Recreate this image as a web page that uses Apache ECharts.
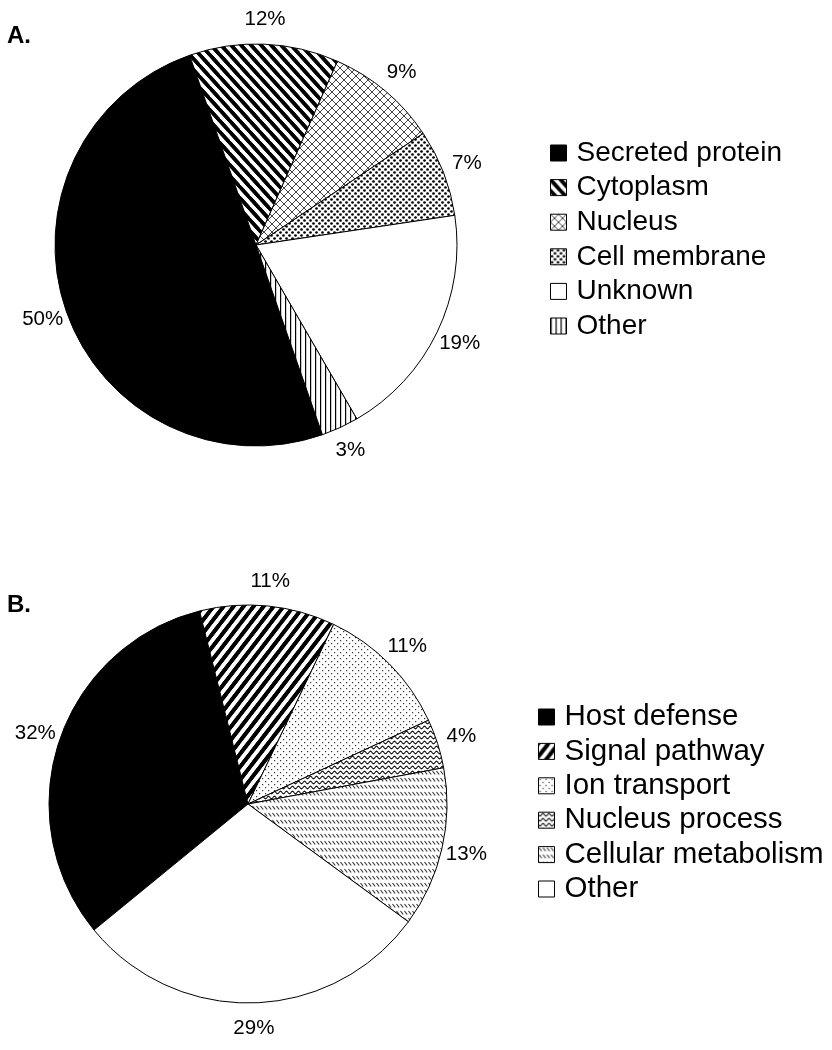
<!DOCTYPE html>
<html><head><meta charset="utf-8">
<script src="https://cdn.jsdelivr.net/npm/echarts@6/dist/echarts.min.js"></script>
<style>html,body{margin:0;padding:0;background:#fff}#c{width:832px;height:1050px}</style>
</head><body><div id="c"></div>
<script>
// ---- data ----
const catsA = ['Secreted protein', 'Cytoplasm', 'Nucleus', 'Cell membrane', 'Unknown', 'Other'];
const valsA = [50, 12, 9, 7, 19, 3];
const catsB = ['Host defense', 'Signal pathway', 'Ion transport', 'Nucleus process', 'Cellular metabolism', 'Other '];
const valsB = [32, 11, 11, 4, 13, 29];
const titles = ['A.', 'B.'];

// ---- patterns ----
function tile(w, h, draw) {
  const c = document.createElement('canvas');
  c.width = w; c.height = h;
  const g = c.getContext('2d');
  g.fillStyle = '#fff'; g.fillRect(0, 0, w, h);
  draw(g, w, h);
  return { image: c, repeat: 'repeat' };
}
function diag(g, w, h, down, lw, col) {
  g.strokeStyle = col; g.lineWidth = lw; g.lineCap = 'butt';
  for (let i = -1; i <= 1; i++) for (let j = -1; j <= 1; j++) {
    g.beginPath();
    if (down) { g.moveTo(i * w - w, j * h - h); g.lineTo(i * w + 2 * w, j * h + 2 * h); }
    else { g.moveTo(i * w - w, j * h + 2 * h); g.lineTo(i * w + 2 * w, j * h - h); }
    g.stroke();
  }
}
const P = {
  black: '#000',
  white: '#fff',
  bslash: tile(10, 11, (g, w, h) => diag(g, w, h, true, 3.4, '#000')),
  fslash: tile(10, 13, (g, w, h) => diag(g, w, h, false, 3.6, '#000')),
  cross: tile(8, 8, (g, w, h) => { diag(g, w, h, true, 0.8, '#444'); diag(g, w, h, false, 0.8, '#444'); }),
  dense: tile(6, 6, (g) => { g.fillStyle = '#000'; [[1.5, 1.5], [4.5, 4.5]].forEach(p => { g.beginPath(); g.arc(p[0], p[1], 1.35, 0, 7); g.fill(); }); }),
  vlines: tile(5, 5, (g) => { g.fillStyle = '#000'; g.fillRect(0, 0, 1.2, 5); }),
  sparse: tile(6, 6, (g) => { g.fillStyle = '#333'; g.fillRect(1, 1, 1.2, 1.2); g.fillRect(4, 4, 1.2, 1.2); }),
  wave: tile(6, 5, (g, w, h) => { g.strokeStyle = '#111'; g.lineWidth = 1.1; g.beginPath(); for (let x = -1; x <= w + 1; x += 0.5) { const y = 2.5 + 1.3 * Math.sin(2 * Math.PI * x / w); x < -0.5 ? g.moveTo(x, y) : g.lineTo(x, y); } g.stroke(); }),
  dashes: tile(4, 7, (g) => { g.strokeStyle = '#333'; g.lineWidth = 1.1; g.beginPath(); g.moveTo(0.5, 1); g.lineTo(3.2, 4.5); g.stroke(); })
};
const fillsA = [P.black, P.bslash, P.cross, P.dense, P.white, P.vlines];
const fillsB = [P.black, P.fslash, P.sparse, P.wave, P.dashes, P.white];

const FONT = 'Liberation Sans, Arial, sans-serif';
function pieSeries(cats, vals, fills, center, r, start) {
  return {
    type: 'pie', center: center, radius: [0, r], startAngle: start, clockwise: true,
    silent: true, animation: false, avoidLabelOverlap: false,
    label: { show: false }, labelLine: { show: false }, emphasis: { disabled: true },
    data: cats.map((n, i) => ({ name: n, value: vals[i], itemStyle: { color: fills[i], borderColor: '#000', borderWidth: 1 } }))
  };
}
function labelRing(cats, vals, center, r, start) {
  return {
    type: 'pie', center: center, radius: [r, r + 50], startAngle: start, clockwise: true,
    silent: true, animation: false, avoidLabelOverlap: false,
    itemStyle: { color: 'rgba(0,0,0,0)', borderWidth: 0 },
    label: { show: true, position: 'inside', formatter: '{c}%', fontSize: 20.5, color: '#000', fontFamily: FONT },
    labelLine: { show: false }, emphasis: { disabled: true },
    data: cats.map((n, i) => ({ name: 'lbl-' + n, value: vals[i] }))
  };
}
function legend(cats, left, top, gap, fs) {
  return {
    data: cats, orient: 'vertical', left: left, top: top, padding: 0,
    itemWidth: 16, itemHeight: 16, itemGap: gap, icon: 'rect', selectedMode: false,
    itemStyle: { borderColor: '#000', borderWidth: 1 },
    textStyle: { fontSize: fs, lineHeight: 28, color: '#000', fontFamily: FONT, padding: [0, 0, 0, 5] }
  };
}
const titleStyle = { fontSize: 24, lineHeight: 24, fontWeight: 'bold', color: '#000', fontFamily: FONT };

const chart = echarts.init(document.getElementById('c'), null, { renderer: 'canvas' });
chart.setOption({
  backgroundColor: '#fff',
  animation: false,
  title: [
    { text: titles[0], left: 7, top: 24, padding: 0, textStyle: titleStyle },
    { text: titles[1], left: 7, top: 593, padding: 0, textStyle: titleStyle }
  ],
  legend: [legend(catsA, 550, 139, 6.6, 28), legend(catsB, 538, 702, 4.4, 29.5)],
  series: [
    pieSeries(catsA, valsA, fillsA, [256, 245], 201, -70.7),
    pieSeries(catsB, valsB, fillsB, [248, 804], 199, -140.7),
    labelRing(catsA, valsA, [256, 245], 198, -70.7),
    labelRing(catsB, valsB, [248, 804], 196, -140.7)
  ]
});
</script></body></html>
